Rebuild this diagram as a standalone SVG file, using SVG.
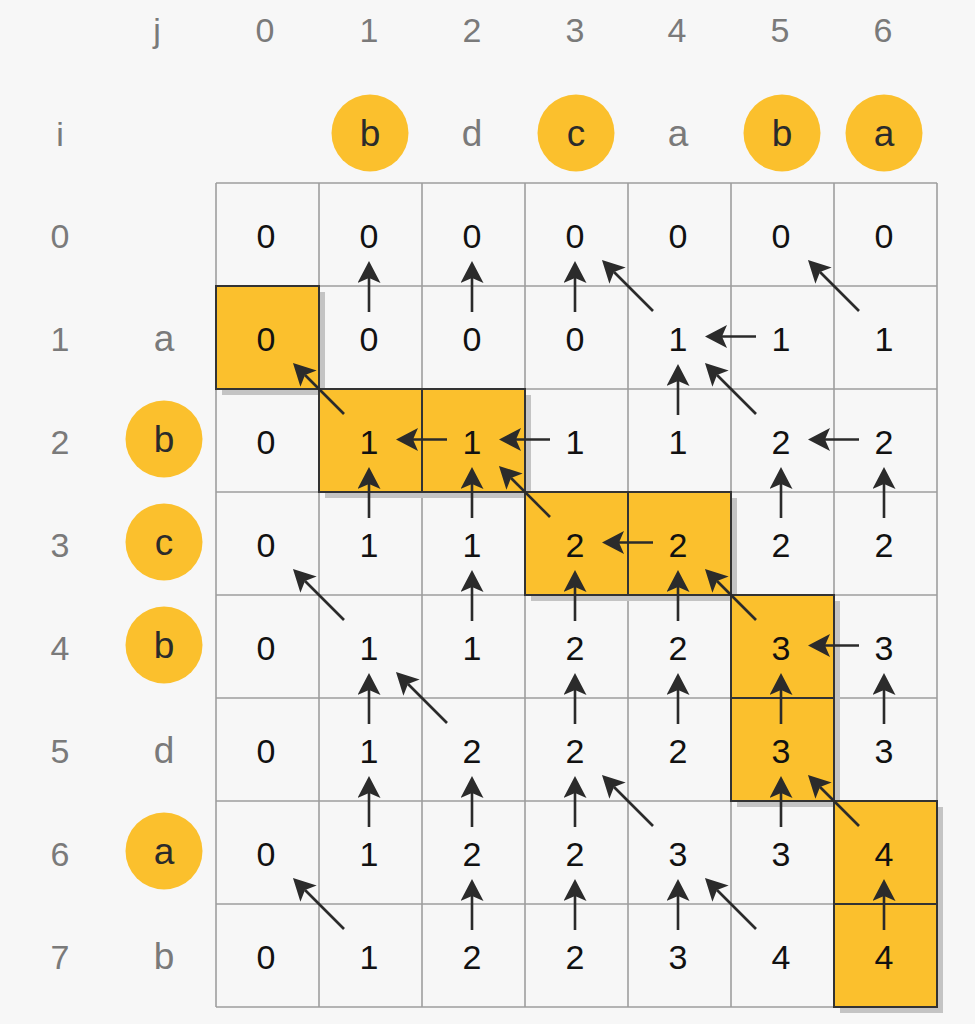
<svg xmlns="http://www.w3.org/2000/svg" width="975" height="1024" viewBox="0 0 975 1024">
<defs>
<marker id="ah" markerUnits="userSpaceOnUse" markerWidth="22" markerHeight="23" viewBox="0 0 22 23" refX="5" refY="11.5" orient="auto">
<path d="M0,0 L22,11.5 L0,23 L5,11.5 Z" fill="#2b2b2b"/>
</marker>
</defs>
<style>
.bg{fill:#f7f7f7}
.grid line{stroke:#9e9e9e;stroke-width:1.6}
.hl{fill:#fbc02d;stroke:#333;stroke-width:2}
.sh{fill:#c4c4c4}
.v{font-family:"Liberation Sans",Arial,sans-serif;font-size:34px;fill:#111;text-anchor:middle}
.h{font-family:"Liberation Sans",Arial,sans-serif;font-size:34px;fill:#7a7a7a;text-anchor:middle}
.l{font-family:"Liberation Sans",Arial,sans-serif;font-size:37px;fill:#7a7a7a;text-anchor:middle}
.lc{font-family:"Liberation Sans",Arial,sans-serif;font-size:37px;fill:#2b2b2b;text-anchor:middle}
.c{fill:#fbc02d}
.conn line{stroke:#2b2b2b;stroke-width:2.6;marker-end:url(#ah)}
</style>
<rect class="bg" x="0" y="0" width="975" height="1024"/>

<g id="headers">
<text class="h" x="157" y="42">j</text>
<text class="h" x="265" y="42">0</text>
<text class="h" x="369" y="42">1</text>
<text class="h" x="472" y="42">2</text>
<text class="h" x="575" y="42">3</text>
<text class="h" x="677" y="42">4</text>
<text class="h" x="780" y="42">5</text>
<text class="h" x="883" y="42">6</text>
<text class="h" x="60" y="146">i</text>
<text class="h" x="60" y="248">0</text>
<text class="h" x="60" y="351">1</text>
<text class="h" x="60" y="454">2</text>
<text class="h" x="60" y="557">3</text>
<text class="h" x="60" y="660">4</text>
<text class="h" x="60" y="763">5</text>
<text class="h" x="60" y="866">6</text>
<text class="h" x="60" y="969">7</text>
</g>

<g id="string-top">
<circle class="c" cx="370" cy="133" r="38.5"/><text class="lc" x="370" y="146">b</text>
<text class="l" x="472" y="146">d</text>
<circle class="c" cx="576" cy="133" r="38.5"/><text class="lc" x="576" y="146">c</text>
<text class="l" x="678" y="146">a</text>
<circle class="c" cx="782" cy="133" r="38.5"/><text class="lc" x="782" y="146">b</text>
<circle class="c" cx="884" cy="133" r="38.5"/><text class="lc" x="884" y="146">a</text>
</g>

<g id="string-left">
<text class="l" x="164" y="351">a</text>
<circle class="c" cx="164" cy="439" r="38.5"/><text class="lc" x="164" y="452">b</text>
<circle class="c" cx="164" cy="542" r="38.5"/><text class="lc" x="164" y="555">c</text>
<circle class="c" cx="164" cy="645" r="38.5"/><text class="lc" x="164" y="658">b</text>
<text class="l" x="164" y="763">d</text>
<circle class="c" cx="164" cy="851" r="38.5"/><text class="lc" x="164" y="864">a</text>
<text class="l" x="164" y="969">b</text>
</g>

<g id="grid" class="grid">
<line x1="216" y1="183" x2="216" y2="1007"/>
<line x1="319" y1="183" x2="319" y2="1007"/>
<line x1="422" y1="183" x2="422" y2="1007"/>
<line x1="525" y1="183" x2="525" y2="1007"/>
<line x1="628" y1="183" x2="628" y2="1007"/>
<line x1="731" y1="183" x2="731" y2="1007"/>
<line x1="834" y1="183" x2="834" y2="1007"/>
<line x1="937" y1="183" x2="937" y2="1007"/>
<line x1="216" y1="183" x2="937" y2="183"/>
<line x1="216" y1="286" x2="937" y2="286"/>
<line x1="216" y1="389" x2="937" y2="389"/>
<line x1="216" y1="492" x2="937" y2="492"/>
<line x1="216" y1="595" x2="937" y2="595"/>
<line x1="216" y1="698" x2="937" y2="698"/>
<line x1="216" y1="801" x2="937" y2="801"/>
<line x1="216" y1="904" x2="937" y2="904"/>
<line x1="216" y1="1007" x2="937" y2="1007"/>
</g>

<g id="path-cells">
<rect class="sh" x="222" y="292" width="103" height="103"/><rect class="hl" x="216" y="286" width="103" height="103"/>
<rect class="sh" x="325" y="395" width="103" height="103"/><rect class="hl" x="319" y="389" width="103" height="103"/>
<rect class="sh" x="428" y="395" width="103" height="103"/><rect class="hl" x="422" y="389" width="103" height="103"/>
<rect class="sh" x="531" y="498" width="103" height="103"/><rect class="hl" x="525" y="492" width="103" height="103"/>
<rect class="sh" x="634" y="498" width="103" height="103"/><rect class="hl" x="628" y="492" width="103" height="103"/>
<rect class="sh" x="737" y="601" width="103" height="103"/><rect class="hl" x="731" y="595" width="103" height="103"/>
<rect class="sh" x="737" y="704" width="103" height="103"/><rect class="hl" x="731" y="698" width="103" height="103"/>
<rect class="sh" x="840" y="807" width="103" height="103"/><rect class="hl" x="834" y="801" width="103" height="103"/>
<rect class="sh" x="840" y="910" width="103" height="103"/><rect class="hl" x="834" y="904" width="103" height="103"/>
</g>

<g id="values">
<text class="v" x="266" y="248">0</text><text class="v" x="369" y="248">0</text><text class="v" x="472" y="248">0</text><text class="v" x="575" y="248">0</text><text class="v" x="678" y="248">0</text><text class="v" x="781" y="248">0</text><text class="v" x="884" y="248">0</text>
<text class="v" x="266" y="351">0</text><text class="v" x="369" y="351">0</text><text class="v" x="472" y="351">0</text><text class="v" x="575" y="351">0</text><text class="v" x="678" y="351">1</text><text class="v" x="781" y="351">1</text><text class="v" x="884" y="351">1</text>
<text class="v" x="266" y="454">0</text><text class="v" x="369" y="454">1</text><text class="v" x="472" y="454">1</text><text class="v" x="575" y="454">1</text><text class="v" x="678" y="454">1</text><text class="v" x="781" y="454">2</text><text class="v" x="884" y="454">2</text>
<text class="v" x="266" y="557">0</text><text class="v" x="369" y="557">1</text><text class="v" x="472" y="557">1</text><text class="v" x="575" y="557">2</text><text class="v" x="678" y="557">2</text><text class="v" x="781" y="557">2</text><text class="v" x="884" y="557">2</text>
<text class="v" x="266" y="660">0</text><text class="v" x="369" y="660">1</text><text class="v" x="472" y="660">1</text><text class="v" x="575" y="660">2</text><text class="v" x="678" y="660">2</text><text class="v" x="781" y="660">3</text><text class="v" x="884" y="660">3</text>
<text class="v" x="266" y="763">0</text><text class="v" x="369" y="763">1</text><text class="v" x="472" y="763">2</text><text class="v" x="575" y="763">2</text><text class="v" x="678" y="763">2</text><text class="v" x="781" y="763">3</text><text class="v" x="884" y="763">3</text>
<text class="v" x="266" y="866">0</text><text class="v" x="369" y="866">1</text><text class="v" x="472" y="866">2</text><text class="v" x="575" y="866">2</text><text class="v" x="678" y="866">3</text><text class="v" x="781" y="866">3</text><text class="v" x="884" y="866">4</text>
<text class="v" x="266" y="969">0</text><text class="v" x="369" y="969">1</text><text class="v" x="472" y="969">2</text><text class="v" x="575" y="969">2</text><text class="v" x="678" y="969">3</text><text class="v" x="781" y="969">4</text><text class="v" x="884" y="969">4</text>
</g>

<g id="connectors" class="conn">
<line x1="369" y1="312" x2="369" y2="278"/>
<line x1="472" y1="312" x2="472" y2="278"/>
<line x1="575" y1="312" x2="575" y2="278"/>
<line x1="678" y1="415" x2="678" y2="381"/>
<line x1="369" y1="518" x2="369" y2="484"/>
<line x1="472" y1="518" x2="472" y2="484"/>
<line x1="781" y1="518" x2="781" y2="484"/>
<line x1="884" y1="518" x2="884" y2="484"/>
<line x1="472" y1="621" x2="472" y2="587"/>
<line x1="575" y1="621" x2="575" y2="587"/>
<line x1="678" y1="621" x2="678" y2="587"/>
<line x1="369" y1="724" x2="369" y2="690"/>
<line x1="575" y1="724" x2="575" y2="690"/>
<line x1="678" y1="724" x2="678" y2="690"/>
<line x1="781" y1="724" x2="781" y2="690"/>
<line x1="884" y1="724" x2="884" y2="690"/>
<line x1="369" y1="827" x2="369" y2="793"/>
<line x1="472" y1="827" x2="472" y2="793"/>
<line x1="575" y1="827" x2="575" y2="793"/>
<line x1="781" y1="827" x2="781" y2="793"/>
<line x1="472" y1="930" x2="472" y2="896"/>
<line x1="575" y1="930" x2="575" y2="896"/>
<line x1="678" y1="930" x2="678" y2="896"/>
<line x1="884" y1="930" x2="884" y2="896"/>
<line x1="756" y1="336.5" x2="722" y2="336.5"/>
<line x1="447" y1="439.5" x2="413" y2="439.5"/>
<line x1="550" y1="439.5" x2="516" y2="439.5"/>
<line x1="859" y1="439.5" x2="825" y2="439.5"/>
<line x1="653" y1="542.5" x2="619" y2="542.5"/>
<line x1="859" y1="645.5" x2="825" y2="645.5"/>
<line x1="653" y1="311" x2="614" y2="272"/>
<line x1="859" y1="311" x2="820" y2="272"/>
<line x1="344" y1="414" x2="305" y2="375"/>
<line x1="756" y1="414" x2="717" y2="375"/>
<line x1="550" y1="517" x2="511" y2="478"/>
<line x1="344" y1="620" x2="305" y2="581"/>
<line x1="756" y1="620" x2="717" y2="581"/>
<line x1="447" y1="723" x2="408" y2="684"/>
<line x1="653" y1="826" x2="614" y2="787"/>
<line x1="859" y1="826" x2="820" y2="787"/>
<line x1="344" y1="929" x2="305" y2="890"/>
<line x1="756" y1="929" x2="717" y2="890"/>
</g>
</svg>
